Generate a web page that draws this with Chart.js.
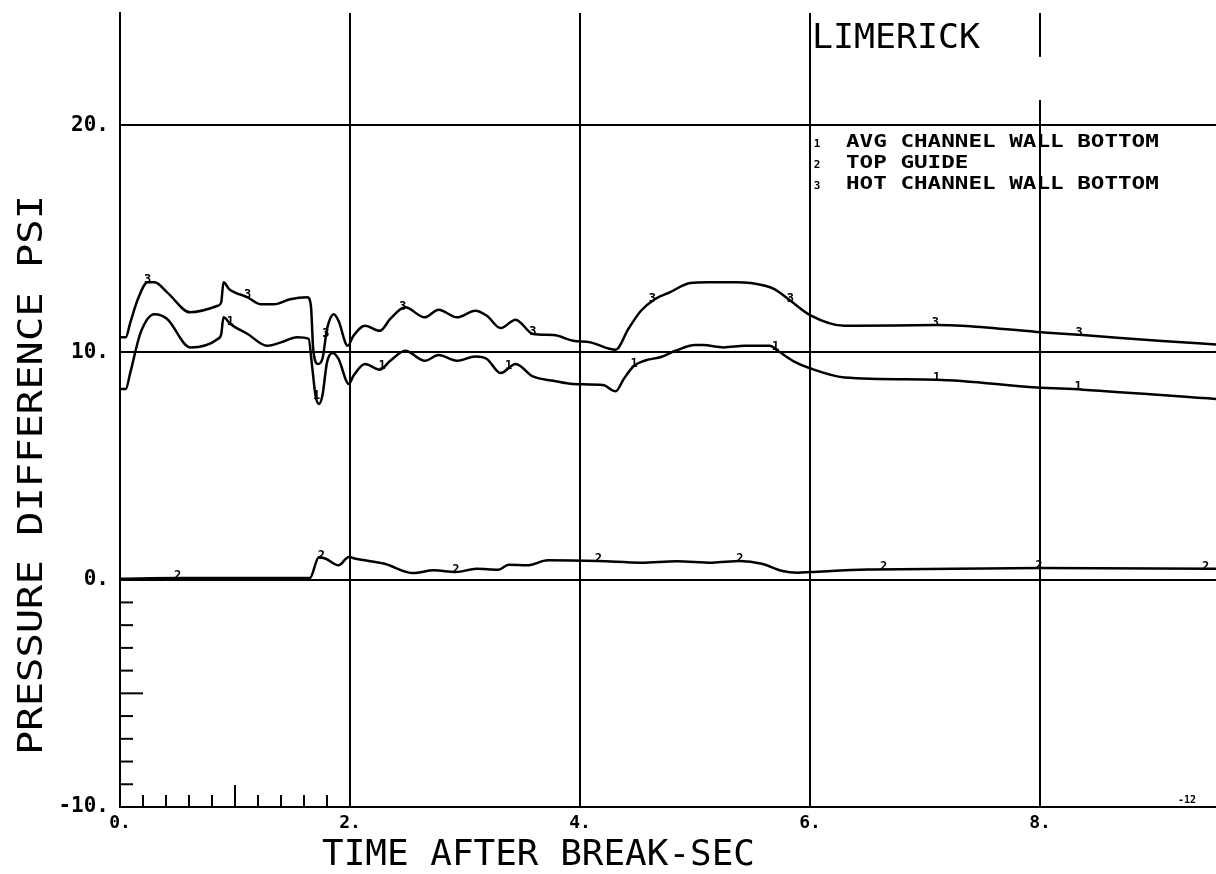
<!DOCTYPE html>
<html>
<head>
<meta charset="utf-8">
<title>Limerick - pressure difference</title>
<script src="https://cdn.jsdelivr.net/npm/chart.js@4.4.1/dist/chart.umd.min.js"></script>
<style>
  html, body { margin: 0; padding: 0; background: #fff; }
  canvas { display: block; }
</style>
</head>
<body>
<canvas id="chart" width="1216" height="874"></canvas>
<script>
// values: time after break (sec) / pressure difference (psi)
const avgTime = [0, 0.05, 0.09, 0.18, 0.30, 0.41, 0.61, 0.85, 0.88, 0.90, 0.96, 1.11, 1.28, 1.40, 1.54, 1.64, 1.67, 1.70, 1.73, 1.76, 1.80, 1.85, 1.90, 1.99, 2.03, 2.13, 2.26, 2.35, 2.48, 2.65, 2.77, 2.93, 3.09, 3.19, 3.31, 3.44, 3.59, 3.77, 3.94, 4.2, 4.31, 4.38, 4.47, 4.56, 4.71, 4.83, 5.0, 5.07, 5.25, 5.43, 5.65, 5.72, 5.85, 6.0, 6.30, 7.10, 7.97, 8.37, 9.53];
const avgPsi = [8.39, 8.39, 9.12, 10.88, 11.68, 11.47, 10.22, 10.59, 10.8, 11.54, 11.25, 10.81, 10.29, 10.44, 10.66, 10.59, 9.41, 8.1, 7.73, 8.1, 9.56, 9.97, 9.71, 8.61, 8.97, 9.49, 9.24, 9.63, 10.07, 9.63, 9.88, 9.63, 9.82, 9.71, 9.09, 9.49, 8.94, 8.75, 8.61, 8.56, 8.29, 8.83, 9.41, 9.63, 9.81, 10.07, 10.32, 10.32, 10.22, 10.29, 10.29, 10.07, 9.63, 9.3, 8.9, 8.8, 8.46, 8.36, 7.95];

const topTime = [0, 0.5, 1.65, 1.73, 1.79, 1.90, 1.99, 2.05, 2.30, 2.55, 2.73, 2.92, 3.10, 3.29, 3.38, 3.54, 3.72, 4.16, 4.53, 4.84, 5.15, 5.39, 5.58, 5.76, 5.89, 6.01, 6.5, 7.25, 7.99, 9.53];
const topPsi = [0.04, 0.07, 0.07, 1.0, 0.92, 0.63, 1.0, 0.92, 0.70, 0.29, 0.41, 0.34, 0.48, 0.44, 0.66, 0.63, 0.85, 0.82, 0.75, 0.81, 0.75, 0.82, 0.70, 0.38, 0.31, 0.34, 0.45, 0.48, 0.51, 0.48];

const hotTime = [0, 0.05, 0.09, 0.16, 0.24, 0.30, 0.41, 0.61, 0.85, 0.88, 0.90, 0.95, 1.11, 1.22, 1.34, 1.48, 1.63, 1.66, 1.68, 1.72, 1.76, 1.80, 1.86, 1.90, 1.98, 2.03, 2.13, 2.26, 2.35, 2.48, 2.65, 2.77, 2.93, 3.09, 3.19, 3.31, 3.44, 3.59, 3.77, 3.94, 4.09, 4.31, 4.42, 4.53, 4.65, 4.78, 4.96, 5.11, 5.36, 5.61, 5.69, 5.83, 6.0, 6.30, 6.38, 7.10, 7.32, 7.97, 8.37, 9.06, 9.53];
const hotPsi = [10.66, 10.66, 11.32, 12.4, 13.08, 13.08, 12.64, 11.76, 12.05, 12.2, 13.08, 12.78, 12.42, 12.12, 12.12, 12.34, 12.42, 12.05, 10.15, 9.49, 9.71, 11.03, 11.68, 11.39, 10.29, 10.73, 11.17, 10.95, 11.47, 11.98, 11.54, 11.88, 11.54, 11.83, 11.61, 11.07, 11.44, 10.81, 10.76, 10.51, 10.44, 10.12, 11.03, 11.83, 12.34, 12.64, 13.05, 13.08, 13.08, 12.93, 12.78, 12.27, 11.64, 11.17, 11.17, 11.2, 11.17, 10.9, 10.76, 10.5, 10.35];

// where the plotter put its curve numbers
const avgMarks = [0.96, 1.71, 2.28, 3.38, 4.47, 5.70, 7.10, 8.33];
const topMarks = [0.5, 1.75, 2.92, 4.16, 5.39, 6.64, 7.99, 9.44];
const hotMarks = [0.24, 1.11, 1.79, 2.46, 3.59, 4.63, 5.83, 7.09, 8.34];

const xTicks = [0, 2, 4, 6, 8];
const yTicks = [-10, 0, 10, 20];
const xMinorTicks = [0.2, 0.4, 0.6, 0.8, 1.0, 1.2, 1.4, 1.6, 1.8];
const yMinorTicks = [-9, -8, -7, -6, -5, -4, -3, -2, -1];
const legendLabels = ['AVG CHANNEL WALL BOTTOM', 'TOP GUIDE', 'HOT CHANNEL WALL BOTTOM'];

const MONO = '"DejaVu Sans Mono", monospace';

function toPoints(ts, vs) {
    return ts.map((t, i) => ({ x: t, y: vs[i] }));
}

function valueAt(ts, vs, t) {
    for (let i = 1; i < ts.length; i++) {
        if (t <= ts[i]) {
            const f = (t - ts[i - 1]) / (ts[i] - ts[i - 1]);
            return vs[i - 1] + f * (vs[i] - vs[i - 1]);
        }
    }
    return vs[vs.length - 1];
}

// text stretched to a given width, plotter lettering is wider than any font we have
function fitText(ctx, text, x, y, width, font, angle) {
    ctx.save();
    ctx.font = font;
    const w = ctx.measureText(text).width;
    ctx.translate(x, y);
    if (angle) ctx.rotate(angle);
    ctx.scale(width / w, 1);
    ctx.textAlign = 'left';
    ctx.textBaseline = 'alphabetic';
    ctx.fillText(text, 0, 0);
    ctx.restore();
}

const plotterExtras = {
    id: 'plotterExtras',
    beforeDatasetsDraw(chart) {
        const { ctx, scales: { x, y } } = chart;
        ctx.save();
        // break in the 8. grid line around the title box
        ctx.fillStyle = '#fff';
        const gx = x.getPixelForValue(8);
        ctx.fillRect(gx - 3, y.getPixelForValue(23.0), 6, y.getPixelForValue(21.1) - y.getPixelForValue(23.0));

        ctx.strokeStyle = '#000';
        ctx.lineWidth = 2;
        const x0 = x.getPixelForValue(0);
        const yb = y.getPixelForValue(-10);
        yMinorTicks.forEach(v => {
            const py = y.getPixelForValue(v);
            ctx.beginPath();
            ctx.moveTo(x0, py);
            ctx.lineTo(x0 + (v === -5 ? 23 : 13), py);
            ctx.stroke();
        });
        xMinorTicks.forEach(v => {
            const px = x.getPixelForValue(v);
            ctx.beginPath();
            ctx.moveTo(px, yb);
            ctx.lineTo(px, yb - (v === 1.0 ? 22 : 12));
            ctx.stroke();
        });
        ctx.restore();
    },
    afterDraw(chart) {
        const { ctx, scales: { x, y } } = chart;
        ctx.save();
        ctx.fillStyle = '#000';

        // curve numbers sitting on the lines
        const marks = [
            [avgMarks, avgTime, avgPsi, '1'],
            [topMarks, topTime, topPsi, '2'],
            [hotMarks, hotTime, hotPsi, '3']
        ];
        ctx.font = 'bold 12px ' + MONO;
        ctx.textAlign = 'center';
        ctx.textBaseline = 'alphabetic';
        marks.forEach(([ts, times, vals, label]) => {
            ts.forEach(t => {
                const px = x.getPixelForValue(t);
                const py = y.getPixelForValue(valueAt(times, vals, t));
                ctx.fillText(label, px, py + 1);
            });
        });

        // title and legend
        fitText(ctx, 'LIMERICK', 812, 48, 168, '34px ' + MONO);
        const baselines = [147, 168, 189];
        legendLabels.forEach((label, i) => {
            ctx.font = 'bold 11px ' + MONO;
            ctx.textAlign = 'center';
            ctx.fillText(String(i + 1), 817, baselines[i]);
            fitText(ctx, label, 846, baselines[i], label.length * 13.6, 'bold 18px ' + MONO);
        });

        // axis titles
        fitText(ctx, 'TIME AFTER BREAK-SEC', 322, 865, 433, '36px ' + MONO);
        fitText(ctx, 'PRESSURE DIFFERENCE PSI', 42, 755, 560, '34px ' + MONO, -Math.PI / 2);

        // plotter frame number
        ctx.font = 'bold 10px ' + MONO;
        ctx.textAlign = 'left';
        ctx.fillText('-12', 1178, 803);
        ctx.restore();
    }
};

function lineSet(label, ts, vs) {
    return {
        label: label,
        data: toPoints(ts, vs),
        borderColor: '#000',
        borderWidth: 2.5,
        pointRadius: 0,
        fill: false,
        cubicInterpolationMode: 'monotone'
    };
}

new Chart(document.getElementById('chart'), {
    type: 'line',
    data: {
        datasets: [
            lineSet('AVG CHANNEL WALL BOTTOM', avgTime, avgPsi),
            lineSet('TOP GUIDE', topTime, topPsi),
            lineSet('HOT CHANNEL WALL BOTTOM', hotTime, hotPsi)
        ]
    },
    options: {
        responsive: false,
        animation: false,
        devicePixelRatio: 1,
        layout: { padding: { top: 13, right: 0, left: 0, bottom: 0 } },
        plugins: {
            legend: { display: false },
            tooltip: { enabled: false }
        },
        scales: {
            x: {
                type: 'linear',
                min: 0,
                max: 9.53,
                afterBuildTicks: scale => { scale.ticks = xTicks.map(v => ({ value: v })); },
                afterFit: scale => {
                    scale.height = 67;
                    scale.paddingLeft = 0;
                    scale.paddingRight = 0;
                },
                grid: { color: '#000', lineWidth: 2, drawTicks: false },
                border: { color: '#000', width: 2 },
                ticks: {
                    color: '#000',
                    padding: 6,
                    maxRotation: 0,
                    font: { family: MONO, size: 18, weight: 'bold' },
                    callback: v => v + '.'
                }
            },
            y: {
                type: 'linear',
                min: -10,
                max: 24.93,
                afterBuildTicks: scale => { scale.ticks = yTicks.map(v => ({ value: v })); },
                afterFit: scale => {
                    scale.width = 120;
                    scale.paddingTop = 0;
                    scale.paddingBottom = 0;
                },
                grid: { color: '#000', lineWidth: 2, drawTicks: false },
                border: { color: '#000', width: 2 },
                ticks: {
                    color: '#000',
                    padding: 11,
                    font: { family: MONO, size: 21, weight: 'bold' },
                    callback: v => v + '.'
                }
            }
        }
    },
    plugins: [plotterExtras]
});
</script>
</body>
</html>
